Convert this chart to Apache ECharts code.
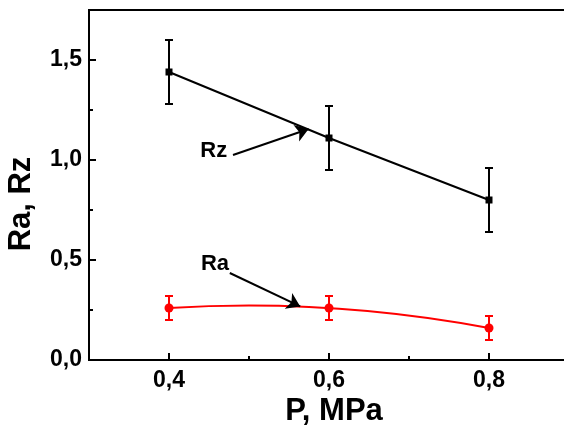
<!DOCTYPE html>
<html><head><meta charset="utf-8">
<script src="https://cdn.jsdelivr.net/npm/echarts@6/dist/echarts.min.js"></script>
<style>html,body{margin:0;padding:0;background:#fff}#c{width:564px;height:425px}</style>
</head><body><div id="c"></div>
<script>
const pressure = [0.4, 0.6, 0.8];
const rz = [1.44, 1.11, 0.80];
const rzErr = [0.16, 0.16, 0.16];
const ra = [0.26, 0.26, 0.16];
const raErr = [0.06, 0.06, 0.06];
const xTicks = [0.4, 0.6, 0.8];
const xMinor = [0.5, 0.7];
const yTicks = [0, 0.5, 1.0, 1.5];
const yMinor = [0.25, 0.75, 1.25];
const xTitle = 'P, MPa';
const yTitle = 'Ra, Rz';
const rzArrow = [[0.48, 1.025], [0.5745, 1.155]];
const rzLabel = [0.456, 1.045];
const raArrow = [[0.476, 0.435], [0.564, 0.268]];
const raLabel = [0.4575, 0.48];

const FONT = 'Liberation Sans, Arial, sans-serif';
const fmt = v => v.toFixed(1).replace('.', ',');

function errBars(vals, errs, color) {
  return {
    type: 'custom',
    z: 2,
    data: pressure.map((x, i) => [x, vals[i] - errs[i], vals[i] + errs[i]]),
    renderItem: function (params, api) {
      const lo = api.coord([api.value(0), api.value(1)]);
      const hi = api.coord([api.value(0), api.value(2)]);
      const w = 4;
      const st = { stroke: color, lineWidth: 2 };
      return {
        type: 'group',
        children: [
          { type: 'line', shape: { x1: lo[0], y1: lo[1], x2: hi[0], y2: hi[1] }, style: st },
          { type: 'line', shape: { x1: lo[0] - w, y1: lo[1], x2: lo[0] + w, y2: lo[1] }, style: st },
          { type: 'line', shape: { x1: hi[0] - w, y1: hi[1], x2: hi[0] + w, y2: hi[1] }, style: st }
        ]
      };
    }
  };
}

function arrowLine(pts) {
  return {
    silent: true,
    symbol: ['none', 'arrow'],
    symbolSize: 13,
    lineStyle: { color: '#000', width: 2, type: 'solid' },
    itemStyle: { color: '#000' },
    label: { show: false },
    emphasis: { disabled: true },
    data: [[{ coord: pts[0] }, { coord: pts[1] }]]
  };
}

// smooth curve through the three Ra points (quadratic Bezier passing through the middle point)
const raCurve = {
  type: 'custom',
  z: 2,
  data: [[pressure[0], ra[0]]],
  renderItem: function (params, api) {
    const p = pressure.map((x, i) => api.coord([x, ra[i]]));
    const cx = 2 * p[1][0] - (p[0][0] + p[2][0]) / 2;
    const cy = 2 * p[1][1] - (p[0][1] + p[2][1]) / 2;
    return {
      type: 'bezierCurve',
      shape: { x1: p[0][0], y1: p[0][1], x2: p[2][0], y2: p[2][1], cpx1: cx, cpy1: cy },
      style: { stroke: '#ff0000', lineWidth: 2, fill: null }
    };
  }
};

const chart = echarts.init(document.getElementById('c'));
const axisLineStyle = { color: '#000', width: 2 };
chart.setOption({
  animation: false,
  backgroundColor: '#fff',
  grid: { left: 89, top: 10, width: 480, height: 350, show: true, borderColor: '#000', borderWidth: 2, outerBoundsMode: 'none', containLabel: false },
  xAxis: [
    {
      type: 'value', min: 0.3, max: 0.9, position: 'bottom',
      axisLine: { lineStyle: axisLineStyle },
      axisTick: { inside: true, length: 7, lineStyle: axisLineStyle, customValues: xTicks },
      axisLabel: { customValues: xTicks, formatter: fmt, fontSize: 23, fontWeight: 'bold', color: '#000', fontFamily: FONT, margin: 9 },
      splitLine: { show: false }
    },
    {
      type: 'value', min: 0.3, max: 0.9, position: 'bottom',
      axisLine: { show: false },
      axisTick: { inside: true, length: 4, lineStyle: axisLineStyle, customValues: xMinor },
      axisLabel: { show: false },
      splitLine: { show: false }
    }
  ],
  yAxis: [
    {
      type: 'value', min: 0, max: 1.75, position: 'left',
      axisLine: { show: true, lineStyle: axisLineStyle },
      axisTick: { show: true, inside: true, length: 7, lineStyle: axisLineStyle, customValues: yTicks },
      axisLabel: { customValues: yTicks, formatter: fmt, fontSize: 23, fontWeight: 'bold', color: '#000', fontFamily: FONT, margin: 7 },
      splitLine: { show: false }
    },
    {
      type: 'value', min: 0, max: 1.75, position: 'left',
      axisLine: { show: false },
      axisTick: { show: true, inside: true, length: 4, lineStyle: axisLineStyle, customValues: yMinor },
      axisLabel: { show: false },
      splitLine: { show: false }
    }
  ],
  series: [
    errBars(rz, rzErr, '#000'),
    {
      type: 'line', z: 3,
      data: pressure.map((x, i) => [x, rz[i]]),
      symbol: 'rect', symbolSize: 7, showSymbol: true,
      itemStyle: { color: '#000' },
      lineStyle: { color: '#000', width: 2 },
      markLine: arrowLine(rzArrow)
    },
    errBars(ra, raErr, '#ff0000'),
    raCurve,
    {
      type: 'line', z: 3,
      data: pressure.map((x, i) => [x, ra[i]]),
      symbol: 'circle', symbolSize: 9, showSymbol: true,
      itemStyle: { color: '#ff0000' },
      lineStyle: { width: 0, opacity: 0 },
      markLine: arrowLine(raArrow)
    }
  ]
});

const pRz = chart.convertToPixel({ gridIndex: 0 }, rzLabel);
const pRa = chart.convertToPixel({ gridIndex: 0 }, raLabel);
const tStyle = (t, size) => ({ text: t, fill: '#000', font: 'bold ' + size + 'px ' + FONT, textAlign: 'center', textVerticalAlign: 'middle' });
chart.setOption({
  graphic: [
    { type: 'text', x: pRz[0], y: pRz[1], style: tStyle('Rz', 22), z: 10 },
    { type: 'text', x: pRa[0], y: pRa[1], style: tStyle('Ra', 22), z: 10 },
    { type: 'text', x: 334, y: 411, style: tStyle(xTitle, 31), z: 10 },
    { type: 'text', x: 21, y: 204, rotation: Math.PI / 2, style: tStyle(yTitle, 31), z: 10 }
  ]
});
</script>
</body></html>
